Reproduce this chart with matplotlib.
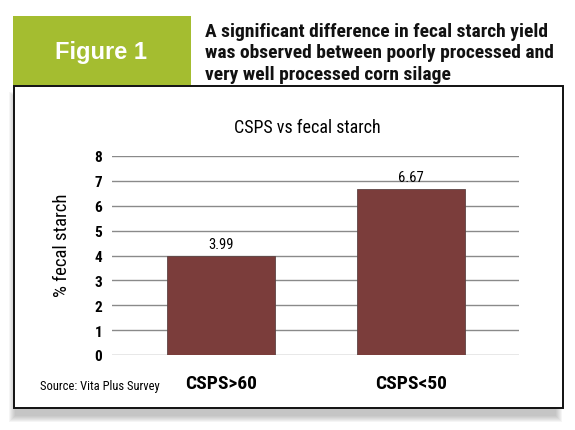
import matplotlib
matplotlib.use('Agg')
import matplotlib.pyplot as plt
from matplotlib.patches import Rectangle
from matplotlib import font_manager as fm

# ---- data ----
categories = ['CSPS>60', 'CSPS<50']
values = [3.99, 6.67]
value_labels = ['3.99', '6.67']
yticks = [0, 1, 2, 3, 4, 5, 6, 7, 8]
chart_title = 'CSPS vs fecal starch'
y_label = '% fecal starch'
source_text = 'Source: Vita Plus Survey'
figure_tag = 'Figure 1'
headline_lines = ['A significant difference in fecal starch yield',
                  'was observed between poorly processed and',
                  'very well processed corn silage']

# ---- fonts ----
names = {f.name for f in fm.fontManager.ttflist}
cond_family = 'Liberation Sans'
for cand in ['Roboto Condensed', 'Archivo Narrow', 'Liberation Sans Narrow', 'Asap Condensed']:
    if cand in names:
        cond_family = cand
        break
COND = dict(family=cond_family)

W, H = 575, 431
fig = plt.figure(figsize=(W / 100, H / 100), dpi=100)
fig.patch.set_facecolor('white')


def fx(x):
    return x / W


def fy(y):
    return 1 - y / H


def rect_px(x0, y0, x1, y1, **kw):
    r = Rectangle((fx(x0), fy(y1)), fx(x1) - fx(x0), fy(y0) - fy(y1),
                  transform=fig.transFigure, **kw)
    fig.add_artist(r)
    return r


# shadow
for i in range(7):
    rect_px(9 + i, 93 + i, 562 - i, 423 - i, facecolor='#808080', edgecolor='none',
            alpha=0.08, zorder=0)
# white chart box
rect_px(14, 87, 563, 409, facecolor='white', edgecolor='#111111', linewidth=1.4, zorder=1)
# green header
rect_px(13, 17, 191, 86, facecolor='#A4BD30', edgecolor='none', zorder=2)
fig.text(fx(101), fy(52), figure_tag, color='white', fontsize=17, fontweight='bold',
         family='Liberation Sans', ha='center', va='center', zorder=3)
for i, line in enumerate(headline_lines):
    fig.text(fx(205), fy(32 + 21.5 * i), line, fontsize=14, fontweight='bold',
             ha='left', va='center', color='#111111', zorder=3, **COND)

# axes
ax = fig.add_axes([fx(112), fy(356), fx(519.5) - fx(112), fy(157) - fy(356)])
ax.set_zorder(5)
ax.patch.set_alpha(0)
x = list(range(len(categories)))
bars = ax.bar(x, values, width=0.566, color='#7B3D3B', edgecolor='#5e4444', linewidth=0.6, zorder=3)
ax.set_ylim(0, 8)
ax.set_xlim(-0.574, 1.571)
ax.set_yticks(yticks)
ax.set_yticklabels([str(t) for t in yticks], fontsize=11, fontweight='bold', **COND)
ax.set_xticks(x)
ax.set_xticklabels(categories, fontsize=14, fontweight='bold', **COND)
ax.tick_params(axis='both', length=0)
ax.tick_params(axis='y', pad=7)
ax.tick_params(axis='x', pad=14)
ax.yaxis.grid(True, color='#8a8a8a', linewidth=1.0)
ax.set_axisbelow(True)
for s in ax.spines.values():
    s.set_visible(False)
for b, lab in zip(bars, value_labels):
    ax.annotate(lab, (b.get_x() + b.get_width() / 2, b.get_height()), xytext=(0, 8.5),
                textcoords='offset points', ha='center', va='center', fontsize=10.5, **COND)

fig.text(fx(307), fy(128), chart_title, fontsize=13, ha='center', va='center', **COND)
fig.text(fx(62), fy(245), y_label, fontsize=13.5, rotation=90, ha='center', va='center', **COND)
fig.text(fx(40), fy(387), source_text, fontsize=9, ha='left', va='center', **COND)

fig.savefig('out.png', dpi=100)
